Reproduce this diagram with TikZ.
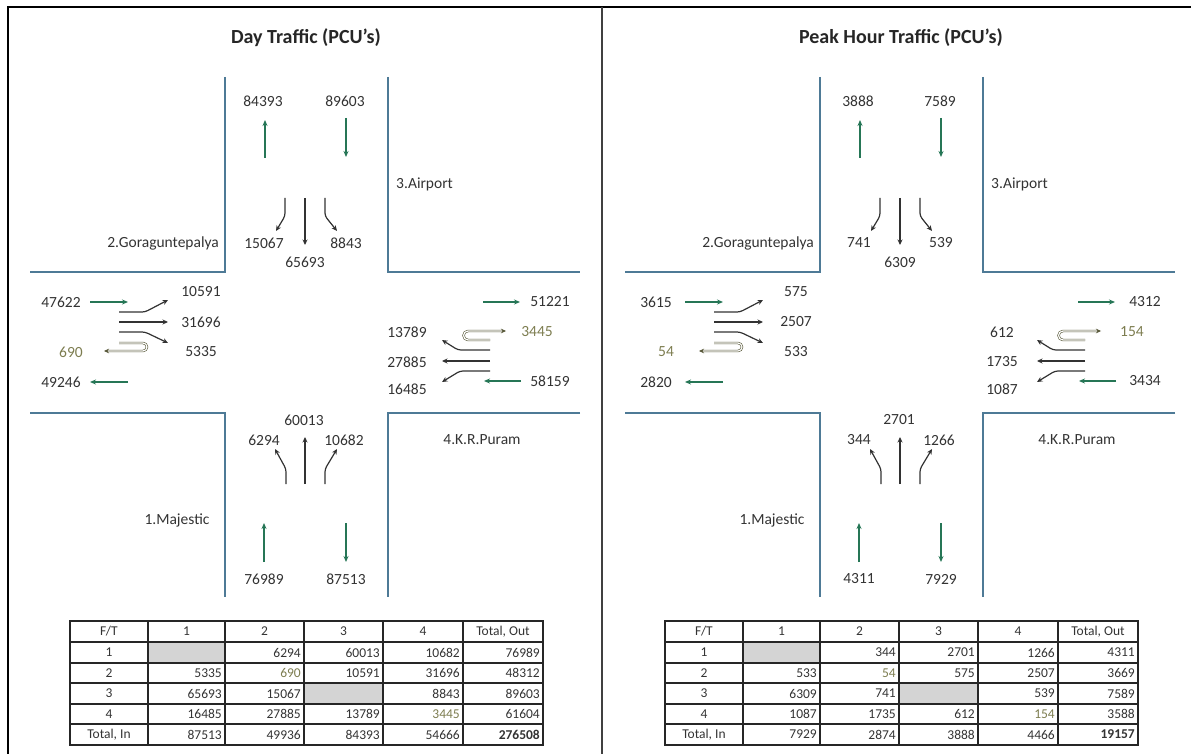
\documentclass[tikz,border=0pt]{standalone}
\usepackage{fontspec}
\setmainfont{Carlito}
\usepackage{xcolor}
\usetikzlibrary{arrows.meta}
\definecolor{roadblue}{RGB}{78,122,150}
\definecolor{flowgreen}{RGB}{38,118,86}
\definecolor{turngray}{RGB}{50,50,50}
\definecolor{uturnolive}{RGB}{125,125,80}
\definecolor{cellgray}{RGB}{212,212,212}

\begin{document}
\begin{tikzpicture}[x=1pt,y=-1pt,
  road/.style={roadblue, line width=1.3pt},
  flow/.style={flowgreen, line width=1.5pt, -{Stealth[length=6pt,width=5pt]}},
  move/.style={turngray, line width=1.2pt, rounded corners=3pt, -{Stealth[length=5.5pt,width=5pt]}},
  uturn/.style={uturnolive!70!black, line width=0.6pt, double=white, double distance=1.2pt, -{Stealth[length=5pt,width=4.5pt]}},
  lbl/.style={font=\fontsize{15.5}{18}\selectfont, text=black!80, inner sep=0pt},
  ulbl/.style={lbl, text=uturnolive},
  title/.style={font=\fontsize{20}{24}\selectfont\bfseries, text=black!85},
  cell/.style={font=\fontsize{13.5}{15}\selectfont, text=black!80, inner sep=0pt},
  num/.style={cell, anchor=east},
  grid/.style={line width=1.1pt, black!85},
  heavy/.style={line width=2pt, black!85}]
\useasboundingbox (0,0) rectangle (1191,754);

\draw[line width=1.6pt] (8,754) -- (8,7) -- (1191,7);
\draw[line width=1.6pt, black!75] (602,7) -- (602,754);

\foreach \dx in {0,595} {
\begin{scope}[xshift=\dx]
\draw[road] (225,77) -- (225,272) -- (30,272);
\draw[road] (388,77) -- (388,272) -- (580,272);
\draw[road] (30,413) -- (225,413) -- (225,597);
\draw[road] (580,413) -- (388,413) -- (388,597);

\draw[flow] (265,158) -- (265,120);
\draw[flow] (346,118) -- (346,157);
\draw[flow] (90,302) -- (128,302);
\draw[flow] (128,382) -- (90,382);
\draw[flow] (483,302) -- (520,302);
\draw[flow] (521,381) -- (484,381);
\draw[flow] (264,562) -- (264,523);
\draw[flow] (346,523) -- (346,562);

\draw[move] (285,198) -- (285,216) -- (276,231);
\draw[move] (305,198) -- (305,245);
\draw[move] (325,198) -- (325,216) -- (337,231);

\draw[move] (286,484) -- (286,469) -- (275,449);
\draw[move] (305,484) -- (305,437);
\draw[move] (325,484) -- (325,469) -- (337,449);

\draw[move] (119,312) -- (145,312) -- (168,300);
\draw[move] (119,322) -- (168,322);
\draw[move] (119,332) -- (145,332) -- (168,343);
\draw[uturn] (119,343) -- (143,343) arc[start angle=-90, end angle=90, radius=4] -- (104,351);

\draw[uturn] (490,340) -- (468,340) arc[start angle=90, end angle=270, radius=4.5] -- (506,331);
\draw[move] (490,350) -- (458,350) -- (442,340);
\draw[move] (490,361) -- (442,361);
\draw[move] (490,371) -- (460,371) -- (442,382);

\fill[cellgray] (148,642) rectangle (225,663);
\fill[cellgray] (304,683) rectangle (383,704);
\foreach \x in {148,225,304,383,463} \draw[grid] (\x,621) -- (\x,745);
\foreach \y in {663,683,704} \draw[grid] (70,\y) -- (543,\y);
\draw[heavy] (70,642) -- (543,642);
\draw[heavy] (70,724) -- (543,724);
\draw[heavy] (70,621) rectangle (543,745);
\node[cell] (hd\dx-0) at (109,631.5) {F/T};
\node[cell] (hd\dx-1) at (186.5,631.5) {1};
\node[cell] (hd\dx-2) at (264.5,631.5) {2};
\node[cell] (hd\dx-3) at (343.5,631.5) {3};
\node[cell] (hd\dx-4) at (423,631.5) {4};
\node[cell] (hd\dx-5) at (503,631.5) {Total, Out};
\end{scope}
}

\node[title] (daytitle) at (306,38) {Day Traffic (PCU’s)};
\node[lbl] (dayNin) at (263,101) {84393};
\node[lbl] (dayNout) at (345,101) {89603};
\node[lbl, anchor=west] (dayair) at (396,184) {3.Airport};
\node[lbl, anchor=east] (daygora) at (219,243) {2.Goraguntepalya};
\node[lbl] (dayNR) at (264,243) {15067};
\node[lbl] (dayNL) at (346,243) {8843};
\node[lbl] (dayNT) at (305,262) {65693};
\node[lbl] (dayWout) at (61,302) {47622};
\node[lbl] (dayWL) at (201,292) {10591};
\node[lbl] (dayWT) at (201,322) {31696};
\node[lbl] (dayWR) at (201,352) {5335};
\node[ulbl] (dayWU) at (71,352) {690};
\node[lbl] (dayWin) at (61,382) {49246};
\node[lbl] (dayEin) at (550,302) {51221};
\node[lbl] (dayER) at (407,332) {13789};
\node[ulbl] (dayEU) at (537,332) {3445};
\node[lbl] (dayET) at (407,362) {27885};
\node[lbl] (dayEL) at (407,389) {16485};
\node[lbl] (dayEout) at (550,381) {58159};
\node[lbl] (dayST) at (304,420) {60013};
\node[lbl] (daySL) at (264,440) {6294};
\node[lbl] (daySR) at (344,440) {10682};
\node[lbl] (daykr) at (482,440) {4.K.R.Puram};
\node[lbl] (daymaj) at (177,520) {1.Majestic};
\node[lbl] (daySout) at (264,579) {76989};
\node[lbl] (daySin) at (346,579) {87513};
\foreach \from/\a/\b/\c/\d/\tot [count=\i] in {
  1/{}/6294/60013/10682/76989,
  2/5335/{\color{uturnolive}690}/10591/31696/48312,
  3/65693/15067/{}/8843/89603,
  4/16485/27885/13789/{\color{uturnolive}3445}/61604,
  {Total, In}/87513/49936/84393/54666/{\bfseries 276508}} {
  \pgfmathsetmacro\yy{652.5+20.5*(\i-1)}
  \node[cell] (day-\i-0) at (109,\yy) {\from};
  \node[num] (day-\i-1) at (222,\yy) {\a};
  \node[num] (day-\i-2) at (301,\yy) {\b};
  \node[num] (day-\i-3) at (380,\yy) {\c};
  \node[num] (day-\i-4) at (460,\yy) {\d};
  \node[num] (day-\i-5) at (540,\yy) {\tot};
}

\begin{scope}[xshift=595]
\node[title] (peaktitle) at (306,38) {Peak Hour Traffic (PCU’s)};
\node[lbl] (peakNin) at (263,101) {3888};
\node[lbl] (peakNout) at (345,101) {7589};
\node[lbl, anchor=west] (peakair) at (396,184) {3.Airport};
\node[lbl, anchor=east] (peakgora) at (219,243) {2.Goraguntepalya};
\node[lbl] (peakNR) at (264,243) {741};
\node[lbl] (peakNL) at (346,243) {539};
\node[lbl] (peakNT) at (305,262) {6309};
\node[lbl] (peakWout) at (61,302) {3615};
\node[lbl] (peakWL) at (201,292) {575};
\node[lbl] (peakWT) at (201,322) {2507};
\node[lbl] (peakWR) at (201,352) {533};
\node[ulbl] (peakWU) at (71,352) {54};
\node[lbl] (peakWin) at (61,382) {2820};
\node[lbl] (peakEin) at (550,302) {4312};
\node[lbl] (peakER) at (407,332) {612};
\node[ulbl] (peakEU) at (537,332) {154};
\node[lbl] (peakET) at (407,362) {1735};
\node[lbl] (peakEL) at (407,389) {1087};
\node[lbl] (peakEout) at (550,381) {3434};
\node[lbl] (peakST) at (304,420) {2701};
\node[lbl] (peakSL) at (264,440) {344};
\node[lbl] (peakSR) at (344,440) {1266};
\node[lbl] (peakkr) at (482,440) {4.K.R.Puram};
\node[lbl] (peakmaj) at (177,520) {1.Majestic};
\node[lbl] (peakSout) at (264,579) {4311};
\node[lbl] (peakSin) at (346,579) {7929};
\foreach \from/\a/\b/\c/\d/\tot [count=\i] in {
  1/{}/344/2701/1266/4311,
  2/533/{\color{uturnolive}54}/575/2507/3669,
  3/6309/741/{}/539/7589,
  4/1087/1735/612/{\color{uturnolive}154}/3588,
  {Total, In}/7929/2874/3888/4466/{\bfseries 19157}} {
  \pgfmathsetmacro\yy{652.5+20.5*(\i-1)}
  \node[cell] (peak-\i-0) at (109,\yy) {\from};
  \node[num] (peak-\i-1) at (222,\yy) {\a};
  \node[num] (peak-\i-2) at (301,\yy) {\b};
  \node[num] (peak-\i-3) at (380,\yy) {\c};
  \node[num] (peak-\i-4) at (460,\yy) {\d};
  \node[num] (peak-\i-5) at (540,\yy) {\tot};
}
\end{scope}
\end{tikzpicture}
\end{document}
